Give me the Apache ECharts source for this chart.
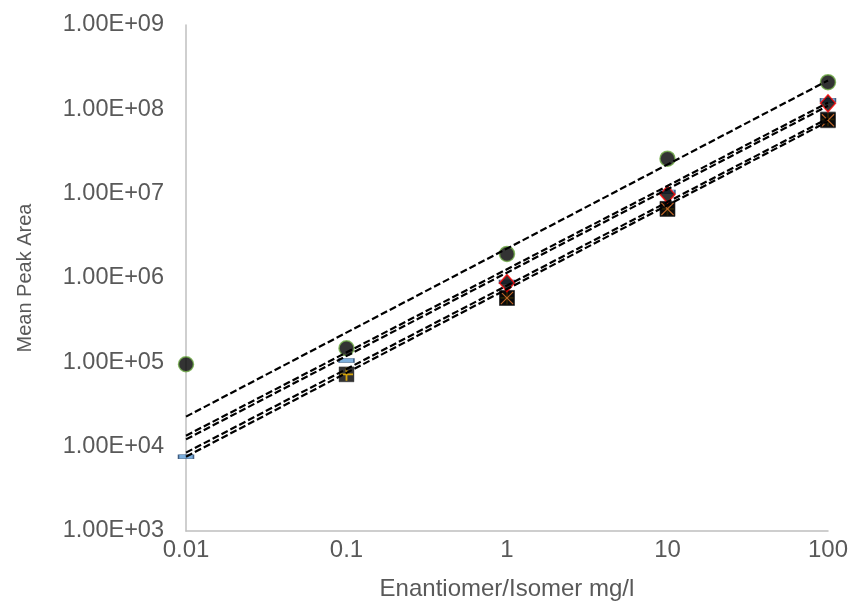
<!DOCTYPE html>
<html><head><meta charset="utf-8">
<script src="https://cdn.jsdelivr.net/npm/echarts@6/dist/echarts.min.js"></script>
<style>html,body{margin:0;padding:0;background:#fff}#c{width:851px;height:607px}</style>
</head><body><div id="c"></div>
<script>
// concentrations (mg/l)
const conc = [0.01, 0.1, 1, 10, 100];
// mean peak areas per series (null = not plotted)
const circleVals  = [9.5e4, 1.47e5, 1.93e6, 2.6e7, 2.1e8];
const dashVals    = [7.6e3, 1.05e5, 9.0e5, 1.05e7, 1.28e8];
const diamondVals = [null, null, 8.7e5, 9.8e6, 1.18e8];
const plusVals    = [null, 7.2e4, 5.8e5, 6.6e6, 7.6e7];
const crossVals   = [null, null, 5.8e5, 6.6e6, 7.4e7];
// trendline end values at x = 0.01 and x = 100
const trendX = [0.01, 100];
const trend1 = [2.27e4, 2.2e8];
const trend2 = [1.35e4, 1.2e8];
const trend3 = [1.22e4, 1.1e8];
const trend4 = [8.5e3, 7.8e7];
const trend5 = [7.6e3, 7.2e7];
// tick labels
const xTickLabels = {'-2':'0.01','-1':'0.1','0':'1','1':'10','2':'100'};

const pairs = (xs, ys) => xs.map((x,i)=> ys[i]==null ? null : [x, ys[i]]).filter(p=>p);

const plusPath = 'path://M4.3,0H5.7V4.3H10V5.7H5.7V10H4.3V5.7H0V4.3H4.3Z';
const crossPath = 'path://M0.6,0L5,4.4L9.4,0L10,0.6L5.6,5L10,9.4L9.4,10L5,5.6L0.6,10L0,9.4L4.4,5L0,0.6Z';

function trend(vals){
  return {type:'line', data: pairs(trendX, vals), symbol:'none', z:10, silent:true,
    lineStyle:{color:'#000', width:2.2, type:[7,3]}};
}

const chart = echarts.init(document.getElementById('c'));
chart.setOption({
  animation:false,
  grid:{left:186, right:22, top:25, bottom:76},
  xAxis:{type:'log', logBase:10, min:0.01, max:100,
    name:'Enantiomer/Isomer mg/l', nameLocation:'middle', nameGap:46,
    nameTextStyle:{color:'#595959', fontSize:24, fontFamily:'Liberation Sans'},
    axisLine:{lineStyle:{color:'#BFBFBF', width:1.5}},
    axisTick:{show:false}, splitLine:{show:false},
    axisLabel:{color:'#595959', fontSize:24, fontFamily:'Liberation Sans', margin:7,
      formatter:v=>{const e=Math.round(Math.log10(v)); return xTickLabels[String(e)];}}},
  yAxis:{type:'log', logBase:10, min:1e3, max:1e9,
    name:'Mean Peak Area', nameLocation:'middle', nameGap:151,
    nameTextStyle:{color:'#595959', fontSize:20, fontFamily:'Liberation Sans'},
    axisLine:{show:true, lineStyle:{color:'#BFBFBF', width:1.5}},
    axisTick:{show:false}, splitLine:{show:false},
    axisLabel:{color:'#595959', fontSize:23.5, fontFamily:'Liberation Sans', margin:22,
      formatter:v=>{const e=Math.round(Math.log10(v)); return '1.00E+' + (e<10?'0':'') + e;}}},
  series:[
    {type:'scatter', data:pairs(conc, circleVals), symbol:'circle', symbolSize:15, z:3,
      itemStyle:{color:'#000', borderColor:'#70AD47', borderWidth:1.5}},
    {type:'scatter', data:pairs(conc, plusVals), symbol:'rect', symbolSize:15, z:3,
      itemStyle:{color:'#000', borderColor:'#404040', borderWidth:0.5}},
    {type:'scatter', data:pairs(conc, plusVals), symbol:plusPath, symbolSize:13, z:3,
      itemStyle:{color:'#FFC000'}},
    {type:'scatter', data:pairs(conc, dashVals), symbol:'rect', symbolSize:[15,4], z:4,
      itemStyle:{color:'#5B9BD5', borderColor:'#1F3F66', borderWidth:0.8}},
    {type:'scatter', data:pairs(conc, crossVals), symbol:'rect', symbolSize:15, z:5,
      itemStyle:{color:'#000', borderColor:'#404040', borderWidth:0.5}},
    {type:'scatter', data:pairs(conc, crossVals), symbol:crossPath, symbolSize:13, z:5,
      itemStyle:{color:'#ED7D31'}},
    {type:'scatter', data:pairs(conc, diamondVals), symbol:'diamond', symbolSize:[15,17], z:6,
      itemStyle:{color:'#000', borderColor:'#FF0000', borderWidth:1.5}},
    trend(trend1), trend(trend2), trend(trend3), trend(trend4), trend(trend5)
  ]
});
</script></body></html>
